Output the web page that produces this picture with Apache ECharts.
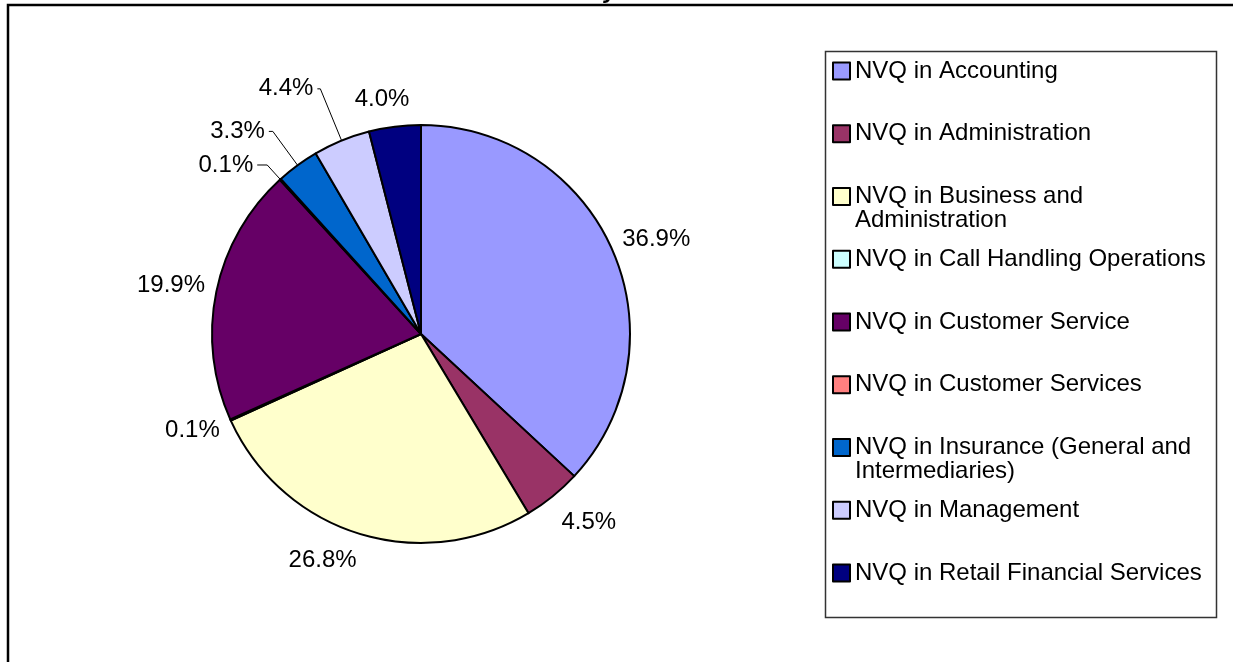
<!DOCTYPE html>
<html>
<head>
<meta charset="utf-8">
<script src="https://cdn.jsdelivr.net/npm/echarts@6/dist/echarts.min.js"></script>
<style>
html, body { margin: 0; padding: 0; background: #fff; }
#pie_1 { width: 1233px; height: 662px; }
</style>
</head>
<body>
<div id="pie_1"></div>
<script>
// 数据
var qualifications = [
    'NVQ in Accounting',
    'NVQ in Administration',
    'NVQ in Business and Administration',
    'NVQ in Call Handling Operations',
    'NVQ in Customer Service',
    'NVQ in Customer Services',
    'NVQ in Insurance (General and Intermediaries)',
    'NVQ in Management',
    'NVQ in Retail Financial Services'
];
var shares = [36.9, 4.5, 26.8, 0.1, 19.9, 0.1, 3.3, 4.4, 4.0];
// 图例显示的文字（换行）
var legendText = [
    'NVQ in Accounting',
    'NVQ in Administration',
    'NVQ in Business and\nAdministration',
    'NVQ in Call Handling Operations',
    'NVQ in Customer Service',
    'NVQ in Customer Services',
    'NVQ in Insurance (General and\nIntermediaries)',
    'NVQ in Management',
    'NVQ in Retail Financial Services'
];

// 样式
var colors = ['#9999FF', '#993366', '#FFFFCC', '#CCFFFF', '#660066', '#FF8080', '#0066CC', '#CCCCFF', '#000080'];
var showLine = [false, false, false, false, false, true, true, true, false];
var lineLen  = [28, 33, 28, 25, 32, 19.5, 42, 56, 27];
var lineLen2 = [-16, -12, -6, -12, -20, 10, 4, 3, -18];
var font = "'Liberation Sans', Arial, sans-serif";

var myChart = echarts.init(document.getElementById('pie_1'));

var pieData = qualifications.map(function (name, i) {
    return {
        name: name,
        value: shares[i],
        label: { distanceToLabelLine: showLine[i] ? 4 : 0 },
        labelLine: { show: showLine[i], length: lineLen[i], length2: lineLen2[i] }
    };
});

// 每个图例项单独放一个 legend，按行排；两行的项前面加一个空行，让第一行对齐色块
var legends = qualifications.map(function (name, i) {
    var twoLines = legendText[i].indexOf('\n') >= 0;
    return {
        data: [name],
        orient: 'vertical',
        left: 832,
        top: 71 + i * 62.75 - (twoLines ? 36 : 12),
        padding: 0,
        selectedMode: false,
        icon: 'rect',
        itemWidth: 17,
        itemHeight: 17,
        itemStyle: { borderColor: '#000', borderWidth: 2 },
        formatter: function () { return twoLines ? '\n' + legendText[i] : legendText[i]; },
        textStyle: {
            fontFamily: font,
            fontSize: 24,
            lineHeight: 24,
            color: '#000'
        }
    };
});

var option = {
    animation: false,
    color: colors,
    legend: legends,
    graphic: [
        // 被裁掉的标题
        {
            type: 'text', left: 604, top: -21, z: 1,
            style: { text: 'y', font: 'bold italic 24px ' + font, fill: '#000' }
        },
        // 外框
        {
            type: 'rect', z: 2,
            shape: { x: 8, y: 5, width: 1240, height: 670 },
            style: { fill: 'none', stroke: '#000', lineWidth: 2.5 }
        },
        // 图例框
        {
            type: 'rect', z: 2,
            shape: { x: 825.5, y: 51.5, width: 391, height: 566 },
            style: { fill: 'none', stroke: '#333', lineWidth: 1.5 }
        }
    ],
    series: [{
        type: 'pie',
        center: [421, 334],
        radius: 209,
        startAngle: 90,
        clockwise: true,
        avoidLabelOverlap: false,
        percentPrecision: 1,
        itemStyle: { borderColor: '#000', borderWidth: 2 },
        label: {
            show: true,
            position: 'outside',
            fontFamily: font,
            fontSize: 24,
            color: '#000',
            formatter: function (p) { return p.percent.toFixed(1) + '%'; }
        },
        labelLine: {
            lineStyle: { color: '#000', width: 1 }
        },
        emphasis: { scale: false },
        data: pieData
    }]
};

myChart.setOption(option);
</script>
</body>
</html>
